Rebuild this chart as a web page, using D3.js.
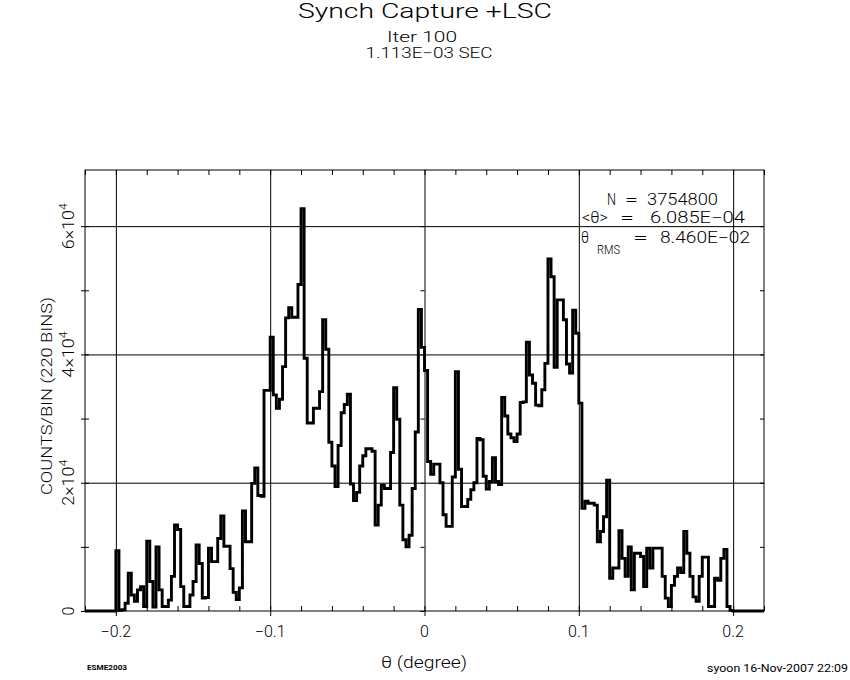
<!DOCTYPE html>
<html>
<head>
<meta charset="utf-8">
<script src="https://cdn.jsdelivr.net/npm/d3@7"></script>
<style>
  body { margin: 0; background: #fff; }
  text { font-family: Roboto, "Liberation Sans", "DejaVu Sans", sans-serif; font-weight: 300; fill: #000; }
</style>
</head>
<body>
<div id="chart"></div>
<script>
// histogram range and bin count (220 bins, -0.22 .. 0.22 deg)
var binRange = [-0.22, 0.22];
var nBins = 220;

// counts per bin
var counts = [
  0, 0, 0, 0, 0, 0, 0, 0, 0, 0,
  9400, 100, 200, 1200, 5900, 2500, 1500, 3300, 3800, 700,
  10900, 4600, 600, 10000, 3300, 700, 700, 1700, 5400, 13400,
  12700, 3800, 700, 700, 2500, 4600, 10300, 7400, 2000, 2100,
  9800, 7700, 7700, 11300, 14800, 10100, 10100, 6600, 2900, 1800,
  3600, 15600, 10800, 10800, 19900, 22300, 18000, 17900, 34400, 34400,
  42700, 33700, 31600, 33000, 38100, 45700, 47300, 45800, 45800, 50900,
  62700, 39400, 29300, 29300, 31600, 31600, 34200, 45400, 40800, 26300,
  22600, 19400, 25800, 30900, 32200, 33800, 19800, 17200, 18500, 22600,
  24200, 25300, 25300, 24900, 13400, 16500, 19600, 19100, 19100, 24700,
  34800, 29900, 16500, 11100, 10000, 11800, 19100, 27900, 47000, 41100,
  37500, 23300, 21300, 22900, 22900, 20000, 15000, 13200, 13200, 20900,
  37300, 22100, 16300, 16300, 17400, 18900, 20000, 26900, 26700, 21000,
  19000, 20200, 23900, 20200, 19700, 33300, 30400, 27600, 27000, 26400,
  27600, 32500, 32600, 41900, 36800, 35500, 32100, 32000, 34500, 38600,
  54900, 52100, 38000, 48500, 48500, 45400, 38500, 37100, 46900, 43300,
  32400, 16000, 17100, 16800, 16800, 16500, 10800, 12400, 14700, 20400,
  5100, 6700, 6700, 12500, 8200, 5400, 10000, 3300, 9000, 9000,
  8500, 3800, 9800, 6700, 9800, 9800, 9800, 5400, 2000, 700,
  4000, 5400, 6700, 6000, 12400, 9000, 5400, 2200, 1500, 5400,
  8400, 8400, 700, 700, 5100, 4800, 8200, 9600, 700, 100,
  0, 0, 0, 0, 0, 0, 0, 0, 0, 0
];

var xMajor = [-0.2, -0.1, 0, 0.1, 0.2];
var xLabels = ["\u22120.2", "\u22120.1", "0", "0.1", "0.2"];
var yMajor = [0, 20000, 40000, 60000];
var yMant = ["0", "2", "4", "6"];
var yMax = 68750;

var width = 850, height = 680;
var pLeft = 85, pRight = 764, pTop = 170, pBottom = 611;

var svg = d3.select("#chart").append("svg")
    .attr("width", width)
    .attr("height", height);

var x = d3.scaleLinear().domain(binRange).range([pLeft, pRight]);
var y = d3.scaleLinear().domain([0, yMax]).range([pBottom, pTop]);

var binW = (binRange[1] - binRange[0]) / nBins;
var xMinor = d3.range(0, 23).map(function(i) { return +(binRange[0] + i * 0.02).toFixed(3); });
var yMinor = d3.range(0, 7).map(function(i) { return i * 10000; });

function clean(g) {
  g.select(".domain").remove();
  g.selectAll(".tick line").attr("stroke", "#000").attr("stroke-width", 1);
  g.selectAll(".tick text").remove();
}

// grid lines
svg.append("g")
    .attr("transform", "translate(0," + pBottom + ")")
    .call(d3.axisBottom(x).tickValues(xMajor).tickSize(-(pBottom - pTop)).tickFormat(""))
    .call(clean);
svg.append("g")
    .attr("transform", "translate(" + pLeft + ",0)")
    .call(d3.axisLeft(y).tickValues([20000, 40000, 60000]).tickSize(-(pRight - pLeft)).tickFormat(""))
    .call(clean);

// frame
svg.append("rect")
    .attr("x", pLeft).attr("y", pTop)
    .attr("width", pRight - pLeft).attr("height", pBottom - pTop)
    .attr("fill", "none").attr("stroke", "#000").attr("stroke-width", 1);

// ticks
svg.append("g").attr("transform", "translate(0," + pBottom + ")")
    .call(d3.axisBottom(x).tickValues(xMinor).tickSize(-5).tickFormat("")).call(clean);
svg.append("g").attr("transform", "translate(0," + pBottom + ")")
    .call(d3.axisBottom(x).tickValues(xMajor).tickSize(5).tickFormat("")).call(clean);
svg.append("g").attr("transform", "translate(0," + pTop + ")")
    .call(d3.axisTop(x).tickValues(xMinor).tickSize(-5).tickFormat("")).call(clean);
svg.append("g").attr("transform", "translate(" + pLeft + ",0)")
    .call(d3.axisLeft(y).tickValues(yMinor).tickSize(4).tickFormat("")).call(clean);
svg.append("g").attr("transform", "translate(" + pLeft + ",0)")
    .call(d3.axisLeft(y).tickValues(yMinor).tickSize(-4).tickFormat("")).call(clean);
svg.append("g").attr("transform", "translate(" + pRight + ",0)")
    .call(d3.axisRight(y).tickValues(yMinor).tickSize(-4).tickFormat("")).call(clean);
svg.append("g").attr("transform", "translate(" + x(0) + ",0)")
    .call(d3.axisLeft(y).tickValues(yMinor).tickSize(4).tickFormat("")).call(clean);

// histogram as step line
var pts = counts.map(function(c, i) { return [binRange[0] + i * binW, c]; });
pts.push([binRange[1], counts[counts.length - 1]]);

var line = d3.line()
    .x(function(d) { return x(d[0]); })
    .y(function(d) { return y(d[1]); })
    .curve(d3.curveStepAfter);

svg.append("path")
    .datum(pts)
    .attr("d", line)
    .attr("fill", "none")
    .attr("stroke", "#000")
    .attr("stroke-width", 2.9)
    .attr("stroke-linejoin", "miter");

// text helper
function label(txt, px, py, size, opts) {
  opts = opts || {};
  var t = svg.append("text")
      .attr("x", px).attr("y", py)
      .attr("font-size", size)
      .attr("text-anchor", opts.anchor || "start")
      .text(txt);
  if (opts.len) t.attr("textLength", opts.len).attr("lengthAdjust", "spacingAndGlyphs");
  if (opts.rotate) t.attr("transform", "rotate(-90," + px + "," + py + ")");
  return t;
}

// titles
label("Synch Capture +LSC", 425, 18, 21, {anchor: "middle", len: 254});
label("Iter 100", 422, 42, 14, {anchor: "middle", len: 70});
label("1.113E\u221203 SEC", 429, 58, 14, {anchor: "middle", len: 127});

// stats
label("N", 607, 205, 16, {len: 9});
label("=", 625, 205, 16, {len: 13});
label("3754800", 647, 205, 16, {len: 71});
label("<\u03b8>", 582, 223, 16, {len: 26});
label("=", 620, 223, 16, {len: 14});
label("6.085E\u221204", 650, 223, 16, {len: 95});
label("\u03b8", 581, 243, 16, {len: 8});
label("RMS", 597, 254, 12, {len: 23});
label("=", 633, 243, 16, {len: 15});
label("8.460E\u221202", 660, 243, 16, {len: 90});

// x tick labels
xMajor.forEach(function(v, i) {
  label(xLabels[i], x(v), 637, 16, {anchor: "middle"});
});

// y tick labels (rotated, with superscript)
yMajor.forEach(function(v, i) {
  var t = svg.append("text")
      .attr("x", 74).attr("y", y(v))
      .attr("font-size", 16)
      .attr("text-anchor", "middle")
      .attr("transform", "rotate(-90,74," + y(v) + ")");
  if (v === 0) {
    t.text("0");
  } else {
    t.attr("textLength", 46).attr("lengthAdjust", "spacingAndGlyphs");
    t.append("tspan").text(yMant[i] + "\u00d710");
    t.append("tspan").attr("font-size", 11).attr("dy", -7).text("4");
  }
});

// axis titles
label("COUNTS/BIN (220 BINS)", 52, 396, 15, {anchor: "middle", len: 198, rotate: true});
label("\u03b8 (degree)", 424, 668, 16, {anchor: "middle", len: 86});

// footer
label("ESME2003", 87, 670, 8, {len: 40}).style("font-weight", "700");
label("syoon 16-Nov-2007 22:09", 707, 672, 10, {len: 141}).style("font-weight", "400");
</script>
</body>
</html>
